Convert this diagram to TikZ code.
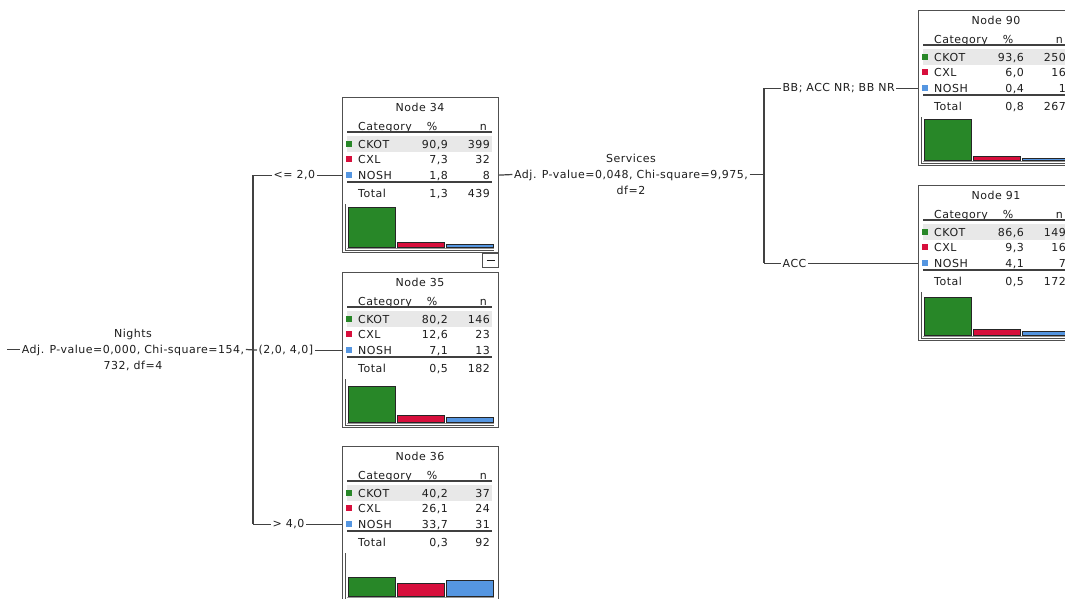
\documentclass[tikz,border=0pt]{standalone}
\usepackage{fontspec}
\setmainfont{DejaVu Sans}[LetterSpace=4.5]
\definecolor{ckot}{RGB}{40,135,40}
\definecolor{cxl}{RGB}{215,15,60}
\definecolor{nosh}{RGB}{85,150,225}
\definecolor{rowgray}{RGB}{232,232,232}
\definecolor{framec}{RGB}{80,80,80}
\definecolor{wire}{RGB}{65,65,65}
\definecolor{ink}{RGB}{30,30,30}
\tikzset{
 txt/.style={inner sep=0pt, text=ink, font=\fontsize{11}{16}\selectfont},
 tbox/.style={draw=framec, line width=1.2pt, minimum width=156pt, minimum height=155pt, inner sep=0pt, fill=white},
 conn/.style={draw=wire, line width=1.2pt},
 sepline/.style={draw=ink!85, line width=1.3pt},
 bar/.style={draw=black!85, line width=0.9pt},
 elabel/.style={txt, inner xsep=1.5pt},
 splitlabel/.style={txt, align=center, inner xsep=1.5pt},
 minusbox/.style={draw=framec, line width=1pt, minimum width=16pt, minimum height=14pt, inner sep=0pt, fill=white},
}
\newcommand\rowvals[8]{\def\rAp{#1}\def\rAn{#2}\def\rBp{#3}\def\rBn{#4}\def\rCp{#5}\def\rCn{#6}\def\rTp{#7}\def\rTn{#8}}
\newcommand\treebox[7]{%
 \node[tbox, anchor=north west] (#1) at (#2,#3) {};
 \begin{scope}[shift={(#2,#3)}]
  \fill[rowgray] (5,39) rectangle (150,55);
  \node[txt,anchor=mid] at (78,11.5) {Node #4};
  \node[txt,anchor=mid west] at (16,30.5) {Category};
  \node[txt,anchor=mid] at (90,30.5) {\%};
  \node[txt,anchor=mid east] at (145,30.5) {n};
  \draw[sepline] (5,35) -- (150,35);
  \fill[ckot] (4,43.5) rectangle (10,50);
  \fill[cxl] (4,58.5) rectangle (10,65);
  \fill[nosh] (4,74.5) rectangle (10,81);
  \node[txt,anchor=mid west] at (16,48.5) {CKOT};
  \node[txt,anchor=mid east] at (106,48.5) {\rAp};
  \node[txt,anchor=mid east] at (148,48.5) {\rAn};
  \node[txt,anchor=mid west] at (16,63.5) {CXL};
  \node[txt,anchor=mid east] at (106,63.5) {\rBp};
  \node[txt,anchor=mid east] at (148,63.5) {\rBn};
  \node[txt,anchor=mid west] at (16,79.5) {NOSH};
  \node[txt,anchor=mid east] at (106,79.5) {\rCp};
  \node[txt,anchor=mid east] at (148,79.5) {\rCn};
  \draw[sepline] (5,85) -- (150,85);
  \node[txt,anchor=mid west] at (16,97.5) {Total};
  \node[txt,anchor=mid east] at (106,97.5) {\rTp};
  \node[txt,anchor=mid east] at (148,97.5) {\rTn};
  \draw[framec, line width=1pt] (3,107) -- (3,153) -- (152,153);
  \draw[framec!60, line width=0.8pt] (5,151) -- (152,151);
  \filldraw[bar, fill=ckot] (6,150) rectangle (53,{150-#5});
  \filldraw[bar, fill=cxl] (55,150) rectangle (102,{150-#6});
  \filldraw[bar, fill=nosh] (104,150) rectangle (151,{150-#7});
 \end{scope}}
\begin{document}
\begin{tikzpicture}[x=1pt,y=-1pt]
\useasboundingbox (0,0) rectangle (1065,598);
\clip (0,0) rectangle (1065,598);
\fill[white] (0,0) rectangle (1065,598);

% tree nodes
\rowvals{90,9}{399}{7,3}{32}{1,8}{8}{1,3}{439}
\treebox{n34}{342}{97}{34}{39.7}{4.6}{2.3}
\rowvals{80,2}{146}{12,6}{23}{7,1}{13}{0,5}{182}
\treebox{n35}{342}{272}{35}{35.2}{6.8}{4.5}
\rowvals{40,2}{37}{26,1}{24}{33,7}{31}{0,3}{92}
\treebox{n36}{342}{446}{36}{18.4}{12.5}{15.7}
\rowvals{93,6}{250}{6,0}{16}{0,4}{1}{0,8}{267}
\treebox{n90}{918}{10}{90}{40.8}{4.0}{1.7}
\rowvals{86,6}{149}{9,3}{16}{4,1}{7}{0,5}{172}
\treebox{n91}{918}{185}{91}{37.9}{5.4}{3.2}

% collapse box of node 34
\node[minusbox, anchor=north east] (m34) at (n34.south east) {};
\draw[ink, line width=1pt] ([xshift=-4pt]m34.center) -- ([xshift=4pt]m34.center);

% root split
\coordinate (rs) at (7,349.5);
\node[splitlabel] (s1) at (133,349.5) {Nights\\Adj. P-value=0,000, Chi-square=154,\\732, df=4};
\coordinate (tr1) at (253,0);
\node[elabel,anchor=west,xshift=19pt] (e34) at (tr1 |- n34.west) {<= 2,0};
\node[elabel,anchor=west,xshift=4pt] (e35) at (tr1 |- n35.west) {(2,0, 4,0]};
\node[elabel,anchor=west,xshift=18pt] (e36) at (tr1 |- n36.west) {> 4,0};
\draw[conn] (rs) -- (s1.west);
\draw[conn] (s1.east) -- (e35.west);
\draw[conn] (e35.east) -- (n35.west);
\draw[conn] (tr1 |- n34.west) -- (tr1 |- n36.west);
\draw[conn] (tr1 |- n34.west) -- (e34.west);
\draw[conn] (e34.east) -- (n34.west);
\draw[conn] (tr1 |- n36.west) -- (e36.west);
\draw[conn] (e36.east) -- (n36.west);

% services split
\node[splitlabel] (s2) at (631,174.5) {Services\\Adj. P-value=0,048, Chi-square=9,975,\\df=2};
\coordinate (tr2) at (764,0);
\node[elabel,anchor=west,xshift=17pt] (e90) at (tr2 |- n90.west) {BB; ACC NR; BB NR};
\node[elabel,anchor=west,xshift=17pt] (e91) at (tr2 |- n91.west) {ACC};
\draw[conn] (n34.east) -- (s2.west);
\draw[conn] (s2.east) -- (tr2 |- s2.east);
\draw[conn] (tr2 |- n90.west) -- (tr2 |- n91.west);
\draw[conn] (tr2 |- n90.west) -- (e90.west);
\draw[conn] (e90.east) -- (n90.west);
\draw[conn] (tr2 |- n91.west) -- (e91.west);
\draw[conn] (e91.east) -- (n91.west);
\end{tikzpicture}
\end{document}
